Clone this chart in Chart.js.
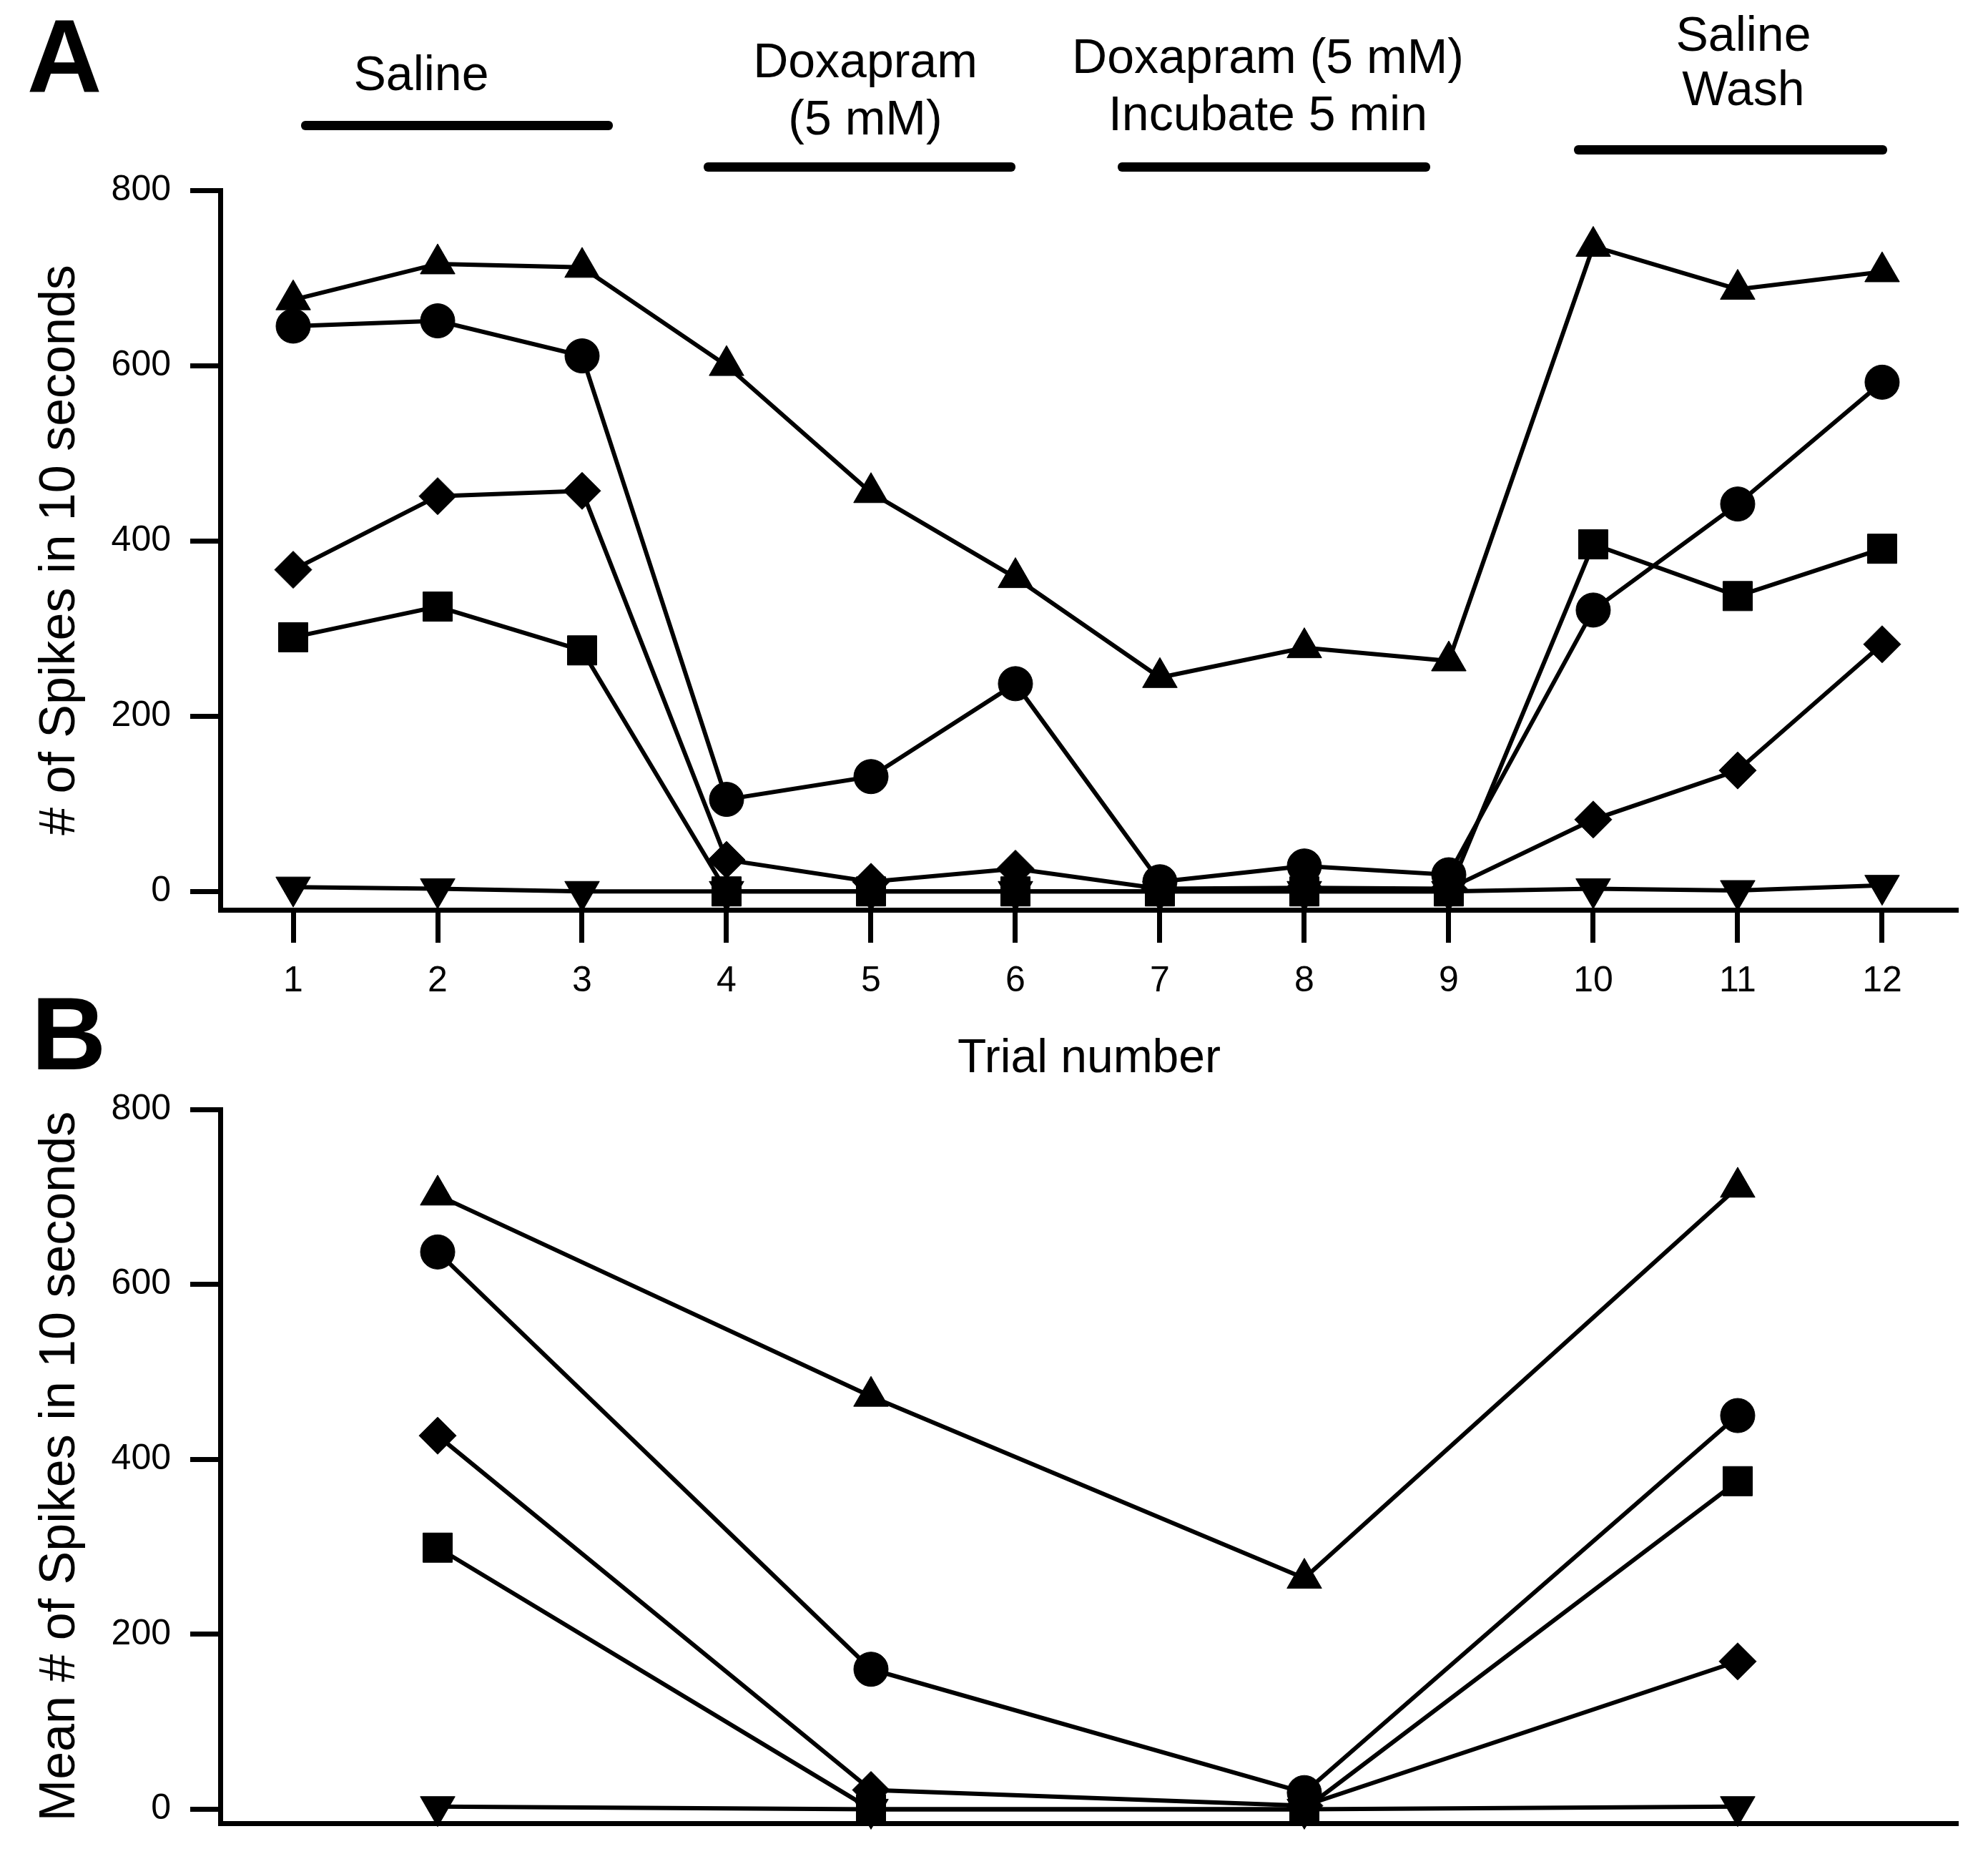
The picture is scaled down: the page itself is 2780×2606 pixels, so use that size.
<!DOCTYPE html>
<html>
<head>
<meta charset="utf-8">
<script src="https://cdn.jsdelivr.net/npm/chart.js@4.4.1/dist/chart.umd.min.js"></script>
<style>
  body { margin: 0; background: #fff; }
  #wrap { position: relative; width: 2780px; height: 2606px; overflow: hidden; font-family: 'Liberation Sans', Arial, sans-serif; color: #000; }
  canvas { position: absolute; left: 0; }
  .lbl { position: absolute; transform: translate(-50%, -50%); font-size: 68px; line-height: 1; white-space: nowrap; }
  .bar { position: absolute; height: 13px; background: #000; border-radius: 6px; }
  .panel { position: absolute; transform: translate(-50%, -50%); font-weight: bold; font-size: 145px; line-height: 1; }
</style>
</head>
<body>
<div id="wrap">
  <canvas id="chartA" width="2780" height="1560" style="top:0"></canvas>
  <canvas id="chartB" width="2780" height="1316" style="top:1290px"></canvas>

  <div class="panel" style="left:90px;top:78px">A</div>
  <div class="panel" style="left:96px;top:1445px">B</div>

  <div class="lbl" style="left:589px;top:102px">Saline</div>
  <div class="bar" style="left:421px;top:169px;width:436px"></div>

  <div class="lbl" style="left:1210px;top:84px">Doxapram</div>
  <div class="lbl" style="left:1210px;top:164px">(5 mM)</div>
  <div class="bar" style="left:984px;top:227px;width:436px"></div>

  <div class="lbl" style="left:1773px;top:78px">Doxapram (5 mM)</div>
  <div class="lbl" style="left:1773px;top:158px">Incubate 5 min</div>
  <div class="bar" style="left:1563px;top:227px;width:437px"></div>

  <div class="lbl" style="left:2438px;top:47px">Saline</div>
  <div class="lbl" style="left:2438px;top:123px">Wash</div>
  <div class="bar" style="left:2201px;top:203px;width:438px"></div>
</div>
<script>
// panel A: each trial
const trials = [1, 2, 3, 4, 5, 6, 7, 8, 9, 10, 11, 12];
const triangleA = [675, 716, 712, 600, 455, 358, 244, 278, 263, 736, 687, 707];
const circleA = [645, 651, 611, 105, 131, 237, 11, 29, 19, 321, 442, 581];
const diamondA = [367, 451, 457, 36, 11, 26, 3, 4, 3, 82, 138, 282];
const squareA = [290, 325, 275, 0, 0, 0, 0, 0, 0, 396, 337, 391];
const downA = [5, 3, 0, 0, 0, 0, 0, 0, 0, 3, 1, 7];

// panel B: means per condition
const trialsB = [2, 5, 8, 11];
const triangleB = [702, 472, 264, 711];
const circleB = [637, 160, 19, 450];
const diamondB = [427, 22, 4, 169];
const squareB = [299, 0, 0, 375];
const downB = [3, 0, 0, 3];

const yTicks = [0, 200, 400, 600, 800];

const family = "'Liberation Sans', Arial, sans-serif";

function series(xs, ys) {
    return xs.map((x, i) => ({ x: x, y: ys[i] }));
}

function lineSet(label, pts, style, r, rot) {
    return {
        label: label,
        data: pts,
        borderColor: '#000',
        backgroundColor: '#000',
        borderWidth: 6,
        pointStyle: style,
        pointRadius: r,
        pointHoverRadius: r,
        pointRotation: rot || 0,
        pointBorderWidth: 1,
        pointBorderColor: '#000',
        pointBackgroundColor: '#000',
        tension: 0,
        fill: false,
        clip: false
    };
}

function makeSets(xs, circ, sq, dia, tri, down) {
    return [
        lineSet('circle', series(xs, circ), 'circle', 24),
        lineSet('square', series(xs, sq), 'rect', 29),
        lineSet('diamond', series(xs, dia), 'rectRot', 26),
        lineSet('triangle', series(xs, tri), 'triangle', 28),
        lineSet('down', series(xs, down), 'triangle', 28, 180)
    ];
}

function yAxis(min, title) {
    return {
        min: min,
        max: 800,
        afterBuildTicks: s => { s.ticks = yTicks.map(v => ({ value: v })); },
        afterFit: s => { s.width = 308; },
        grid: { drawOnChartArea: false, drawTicks: true, tickLength: 42, tickWidth: 7, tickColor: '#000' },
        border: { display: true, width: 7, color: '#000' },
        ticks: { color: '#000', font: { size: 50, family: family }, padding: 27 },
        title: { display: true, text: title, color: '#000', font: { size: 70, family: family }, padding: { top: 43, bottom: 0 } }
    };
}

new Chart(document.getElementById('chartA'), {
    type: 'line',
    data: { datasets: makeSets(trials, circleA, squareA, diamondA, triangleA, downA) },
    options: {
        responsive: false,
        animation: false,
        devicePixelRatio: 1,
        layout: { padding: { left: 0, right: 42, top: 266, bottom: 0 } },
        plugins: { legend: { display: false }, tooltip: { enabled: false } },
        scales: {
            x: {
                type: 'linear',
                min: 0.495,
                max: 12.525,
                afterBuildTicks: s => { s.ticks = trials.map(v => ({ value: v })); },
                afterFit: s => { s.height = 288; },
                grid: { drawOnChartArea: false, drawTicks: true, tickLength: 46, tickWidth: 7, tickColor: '#000' },
                border: { display: true, width: 7, color: '#000' },
                ticks: { color: '#000', font: { size: 50, family: family }, padding: 24, maxRotation: 0, autoSkip: false },
                title: { display: true, text: 'Trial number', color: '#000', font: { size: 66, family: family }, padding: { top: 0, bottom: 40 } }
            },
            y: yAxis(-21, '# of Spikes in 10 seconds')
        }
    }
});

new Chart(document.getElementById('chartB'), {
    type: 'line',
    data: { datasets: makeSets(trialsB, circleB, squareB, diamondB, triangleB, downB) },
    options: {
        responsive: false,
        animation: false,
        devicePixelRatio: 1,
        layout: { padding: { left: 0, right: 42, top: 261, bottom: 0 } },
        plugins: { legend: { display: false }, tooltip: { enabled: false } },
        scales: {
            x: {
                type: 'linear',
                min: 0.495,
                max: 12.525,
                afterFit: s => { s.height = 49; },
                grid: { display: true, drawOnChartArea: false, drawTicks: false },
                border: { display: true, width: 7, color: '#000' },
                ticks: { display: false }
            },
            y: yAxis(-16, 'Mean # of Spikes in 10 seconds')
        }
    }
});
</script>
</body>
</html>
